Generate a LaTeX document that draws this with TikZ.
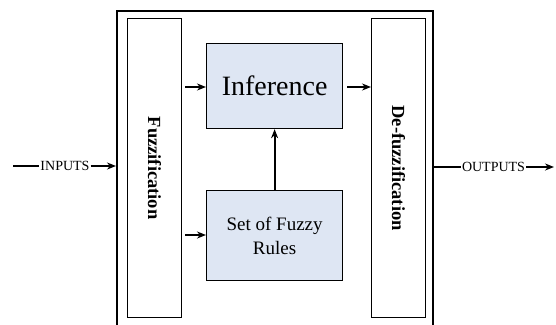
\documentclass[tikz,border=0pt]{standalone}
\usepackage{fontspec}
\setmainfont{Liberation Serif}
\usetikzlibrary{arrows.meta}
\definecolor{boxfill}{RGB}{222,230,243}
\begin{document}
\begin{tikzpicture}[x=1pt,y=-1pt,
  arr/.style={line width=2pt,-{Stealth[length=9pt,width=7pt]}},
  plain/.style={line width=2pt},
  tall/.style={draw,line width=1.2pt,inner sep=0pt},
  blue/.style={draw,line width=1.2pt,fill=boxfill,inner sep=0pt}]
\useasboundingbox (0,0) rectangle (556,324);
\begin{scope}
\clip (0,0) rectangle (556,324);
\node[draw,line width=2pt,minimum width=316pt,minimum height=320pt,inner sep=0pt,anchor=north west] (outer) at (116,10) {};
\end{scope}
\node[tall,minimum width=54pt,minimum height=299pt,anchor=north west] (fuzz) at (127,18) {};
\node[rotate=-90,font=\bfseries\fontsize{18.5}{20}\selectfont] at (fuzz.center) {Fuzzification};
\node[tall,minimum width=54pt,minimum height=299pt,anchor=north west] (defuzz) at (371,18) {};
\node[rotate=-90,font=\bfseries\fontsize{18.5}{20}\selectfont] at (defuzz.center) {De-fuzzification};
\node[blue,minimum width=136pt,minimum height=85pt,anchor=north west,font=\fontsize{28}{30}\selectfont] (inf) at (206,43) {Inference};
\node[blue,minimum width=136pt,minimum height=90pt,anchor=north west,align=center,font=\fontsize{19}{24}\selectfont] (rules) at (206,190) {Set of Fuzzy\\Rules};
\coordinate (a1) at (185,87);
\coordinate (a2) at (185,235);
\coordinate (a3) at (347,87);
\coordinate (a4) at (371,87);
\draw[arr] (a1) -- (a1 -| inf.west);
\draw[arr] (a2) -- (a2 -| rules.west);
\draw[arr] (a3) -- (a4);
\draw[arr] (rules.north) -- (inf.south);
% inputs
\coordinate (in0) at (13,166);
\node[font=\fontsize{14}{16}\selectfont,inner sep=1pt] (inputs) at (65,166) {INPUTS};
\coordinate (in1) at (116,166);
\draw[plain] (in0) -- (inputs.west);
\draw[arr] (inputs.east) -- (in1);
% outputs
\coordinate (out0) at (432,167);
\node[font=\fontsize{14}{16}\selectfont,inner sep=1pt] (outputs) at (493.5,167) {OUTPUTS};
\coordinate (out1) at (554,167);
\draw[plain] (out0) -- (outputs.west);
\draw[arr] (outputs.east) -- (out1);
\end{tikzpicture}
\end{document}
